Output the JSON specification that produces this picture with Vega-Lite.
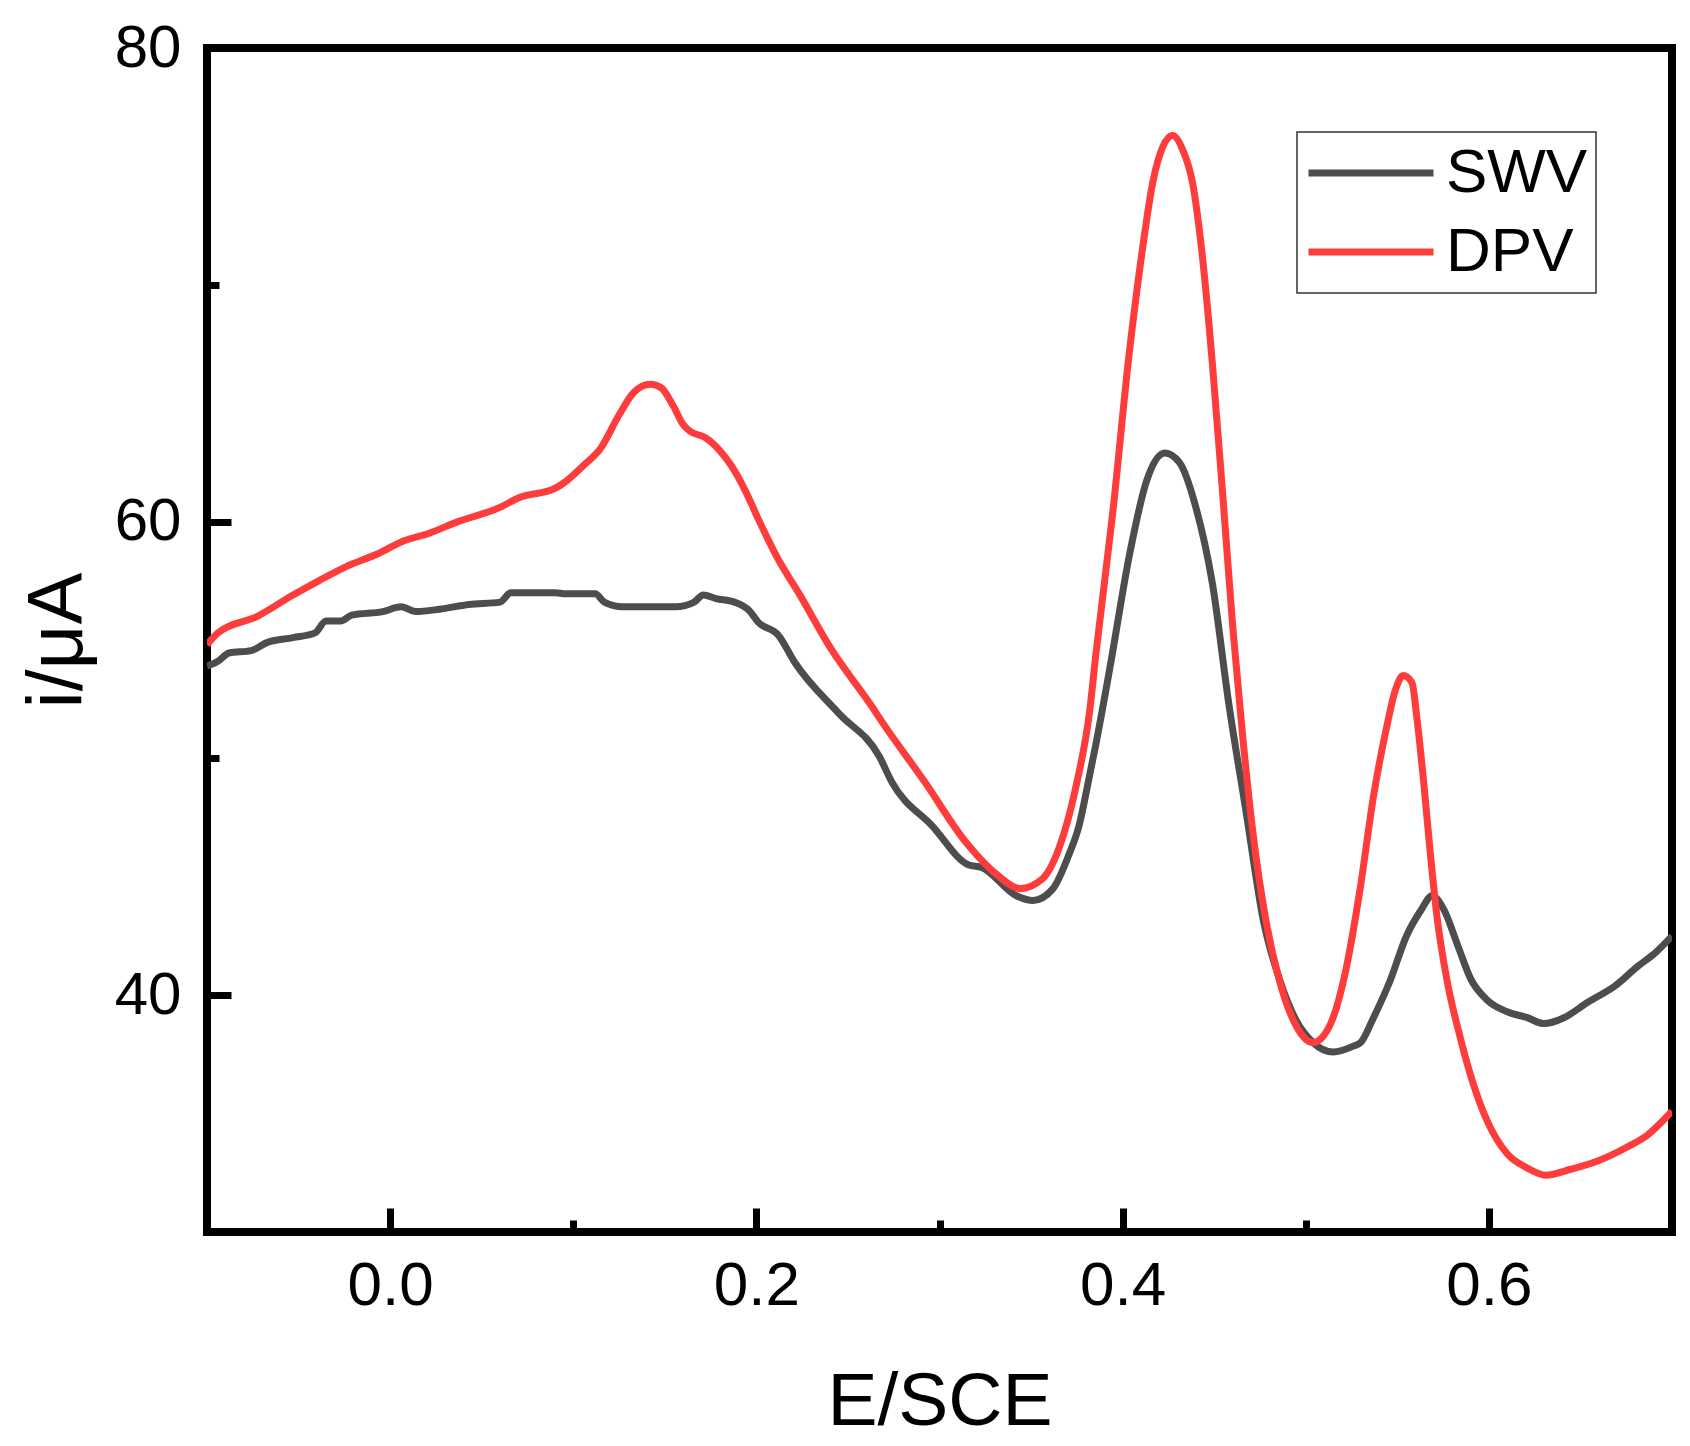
{
  "$schema": "https://vega.github.io/schema/vega-lite/v6.json",
  "autosize": {"type": "none"},
  "padding": {"left": 207, "top": 48, "right": 18, "bottom": 214},
  "width": 1465,
  "height": 1184,
  "background": "white",
  "config": {
    "view": {"stroke": "black", "strokeWidth": 8},
    "font": "Liberation Sans",
    "legend": {"strokeColor": "#333333", "strokeWidth": 1.5}
  },
  "data": {
    "values": [
      {"s": "SWV", "E": -0.100, "i": 53.9},
      {"s": "SWV", "E": -0.094, "i": 54.1},
      {"s": "SWV", "E": -0.088, "i": 54.45},
      {"s": "SWV", "E": -0.076, "i": 54.55},
      {"s": "SWV", "E": -0.067, "i": 54.9},
      {"s": "SWV", "E": -0.053, "i": 55.1},
      {"s": "SWV", "E": -0.041, "i": 55.3},
      {"s": "SWV", "E": -0.035, "i": 55.8},
      {"s": "SWV", "E": -0.027, "i": 55.8},
      {"s": "SWV", "E": -0.021, "i": 56.05},
      {"s": "SWV", "E": -0.004, "i": 56.2},
      {"s": "SWV", "E": 0.006, "i": 56.4},
      {"s": "SWV", "E": 0.014, "i": 56.2},
      {"s": "SWV", "E": 0.027, "i": 56.3},
      {"s": "SWV", "E": 0.043, "i": 56.5},
      {"s": "SWV", "E": 0.060, "i": 56.6},
      {"s": "SWV", "E": 0.066, "i": 57.0},
      {"s": "SWV", "E": 0.090, "i": 57.0},
      {"s": "SWV", "E": 0.096, "i": 56.95},
      {"s": "SWV", "E": 0.112, "i": 56.95},
      {"s": "SWV", "E": 0.117, "i": 56.6},
      {"s": "SWV", "E": 0.127, "i": 56.4},
      {"s": "SWV", "E": 0.156, "i": 56.4},
      {"s": "SWV", "E": 0.166, "i": 56.6},
      {"s": "SWV", "E": 0.171, "i": 56.9},
      {"s": "SWV", "E": 0.178, "i": 56.75},
      {"s": "SWV", "E": 0.188, "i": 56.6},
      {"s": "SWV", "E": 0.196, "i": 56.25},
      {"s": "SWV", "E": 0.201, "i": 55.75},
      {"s": "SWV", "E": 0.212, "i": 55.2},
      {"s": "SWV", "E": 0.221, "i": 54.05},
      {"s": "SWV", "E": 0.245, "i": 51.9},
      {"s": "SWV", "E": 0.267, "i": 50.1},
      {"s": "SWV", "E": 0.274, "i": 49.0},
      {"s": "SWV", "E": 0.296, "i": 47.15},
      {"s": "SWV", "E": 0.316, "i": 45.5},
      {"s": "SWV", "E": 0.323, "i": 45.4},
      {"s": "SWV", "E": 0.342, "i": 44.2},
      {"s": "SWV", "E": 0.351, "i": 44.0},
      {"s": "SWV", "E": 0.362, "i": 44.5},
      {"s": "SWV", "E": 0.371, "i": 46.0},
      {"s": "SWV", "E": 0.376, "i": 47.1},
      {"s": "SWV", "E": 0.382, "i": 49.3},
      {"s": "SWV", "E": 0.3854, "i": 50.6},
      {"s": "SWV", "E": 0.393, "i": 53.8},
      {"s": "SWV", "E": 0.404, "i": 58.7},
      {"s": "SWV", "E": 0.413, "i": 61.7},
      {"s": "SWV", "E": 0.423, "i": 62.9},
      {"s": "SWV", "E": 0.431, "i": 62.5},
      {"s": "SWV", "E": 0.440, "i": 60.6},
      {"s": "SWV", "E": 0.449, "i": 57.4},
      {"s": "SWV", "E": 0.458, "i": 52.3},
      {"s": "SWV", "E": 0.4675, "i": 47.7},
      {"s": "SWV", "E": 0.477, "i": 43.1},
      {"s": "SWV", "E": 0.486, "i": 40.6},
      {"s": "SWV", "E": 0.495, "i": 38.9},
      {"s": "SWV", "E": 0.504, "i": 38.0},
      {"s": "SWV", "E": 0.515, "i": 37.6},
      {"s": "SWV", "E": 0.526, "i": 37.85},
      {"s": "SWV", "E": 0.530, "i": 38.0},
      {"s": "SWV", "E": 0.537, "i": 39.05},
      {"s": "SWV", "E": 0.546, "i": 40.6},
      {"s": "SWV", "E": 0.555, "i": 42.5},
      {"s": "SWV", "E": 0.563, "i": 43.6},
      {"s": "SWV", "E": 0.569, "i": 44.2},
      {"s": "SWV", "E": 0.5755, "i": 43.6},
      {"s": "SWV", "E": 0.583, "i": 42.1},
      {"s": "SWV", "E": 0.590, "i": 40.7},
      {"s": "SWV", "E": 0.599, "i": 39.8},
      {"s": "SWV", "E": 0.610, "i": 39.3},
      {"s": "SWV", "E": 0.621, "i": 39.05},
      {"s": "SWV", "E": 0.630, "i": 38.8},
      {"s": "SWV", "E": 0.641, "i": 39.05},
      {"s": "SWV", "E": 0.654, "i": 39.7},
      {"s": "SWV", "E": 0.669, "i": 40.4},
      {"s": "SWV", "E": 0.681, "i": 41.2},
      {"s": "SWV", "E": 0.691, "i": 41.8},
      {"s": "SWV", "E": 0.700, "i": 42.5},
      {"s": "DPV", "E": -0.100, "i": 54.8},
      {"s": "DPV", "E": -0.094, "i": 55.3},
      {"s": "DPV", "E": -0.0725, "i": 56.0},
      {"s": "DPV", "E": -0.053, "i": 56.9},
      {"s": "DPV", "E": -0.039, "i": 57.5},
      {"s": "DPV", "E": -0.024, "i": 58.1},
      {"s": "DPV", "E": -0.008, "i": 58.6},
      {"s": "DPV", "E": 0.008, "i": 59.2},
      {"s": "DPV", "E": 0.021, "i": 59.5},
      {"s": "DPV", "E": 0.037, "i": 60.0},
      {"s": "DPV", "E": 0.060, "i": 60.6},
      {"s": "DPV", "E": 0.070, "i": 61.0},
      {"s": "DPV", "E": 0.090, "i": 61.4},
      {"s": "DPV", "E": 0.096, "i": 61.7},
      {"s": "DPV", "E": 0.106, "i": 62.4},
      {"s": "DPV", "E": 0.115, "i": 63.1},
      {"s": "DPV", "E": 0.125, "i": 64.5},
      {"s": "DPV", "E": 0.133, "i": 65.45},
      {"s": "DPV", "E": 0.142, "i": 65.8},
      {"s": "DPV", "E": 0.148, "i": 65.65},
      {"s": "DPV", "E": 0.1545, "i": 64.9},
      {"s": "DPV", "E": 0.160, "i": 64.1},
      {"s": "DPV", "E": 0.164, "i": 63.8},
      {"s": "DPV", "E": 0.172, "i": 63.55},
      {"s": "DPV", "E": 0.180, "i": 63.0},
      {"s": "DPV", "E": 0.186, "i": 62.4},
      {"s": "DPV", "E": 0.194, "i": 61.3},
      {"s": "DPV", "E": 0.2005, "i": 60.2},
      {"s": "DPV", "E": 0.212, "i": 58.4},
      {"s": "DPV", "E": 0.223, "i": 57.0},
      {"s": "DPV", "E": 0.241, "i": 54.6},
      {"s": "DPV", "E": 0.263, "i": 52.2},
      {"s": "DPV", "E": 0.269, "i": 51.5},
      {"s": "DPV", "E": 0.292, "i": 49.0},
      {"s": "DPV", "E": 0.314, "i": 46.5},
      {"s": "DPV", "E": 0.332, "i": 45.05},
      {"s": "DPV", "E": 0.344, "i": 44.5},
      {"s": "DPV", "E": 0.356, "i": 44.9},
      {"s": "DPV", "E": 0.365, "i": 46.15},
      {"s": "DPV", "E": 0.3745, "i": 48.8},
      {"s": "DPV", "E": 0.382, "i": 52.0},
      {"s": "DPV", "E": 0.3854, "i": 54.4},
      {"s": "DPV", "E": 0.3945, "i": 60.3},
      {"s": "DPV", "E": 0.4036, "i": 67.1},
      {"s": "DPV", "E": 0.411, "i": 71.6},
      {"s": "DPV", "E": 0.4164, "i": 74.3},
      {"s": "DPV", "E": 0.4218, "i": 75.8},
      {"s": "DPV", "E": 0.4273, "i": 76.3},
      {"s": "DPV", "E": 0.4328, "i": 75.7},
      {"s": "DPV", "E": 0.4382, "i": 74.3},
      {"s": "DPV", "E": 0.4437, "i": 71.1},
      {"s": "DPV", "E": 0.4492, "i": 66.5},
      {"s": "DPV", "E": 0.4547, "i": 61.1},
      {"s": "DPV", "E": 0.4602, "i": 55.5},
      {"s": "DPV", "E": 0.4656, "i": 50.9},
      {"s": "DPV", "E": 0.4711, "i": 46.9},
      {"s": "DPV", "E": 0.4784, "i": 43.1},
      {"s": "DPV", "E": 0.4857, "i": 40.6},
      {"s": "DPV", "E": 0.4948, "i": 38.7},
      {"s": "DPV", "E": 0.504, "i": 38.0},
      {"s": "DPV", "E": 0.513, "i": 38.7},
      {"s": "DPV", "E": 0.522, "i": 41.1},
      {"s": "DPV", "E": 0.5297, "i": 44.5},
      {"s": "DPV", "E": 0.537, "i": 48.4},
      {"s": "DPV", "E": 0.5444, "i": 51.4},
      {"s": "DPV", "E": 0.549, "i": 52.9},
      {"s": "DPV", "E": 0.5532, "i": 53.5},
      {"s": "DPV", "E": 0.558, "i": 53.2},
      {"s": "DPV", "E": 0.5607, "i": 51.7},
      {"s": "DPV", "E": 0.5644, "i": 49.0},
      {"s": "DPV", "E": 0.568, "i": 46.0},
      {"s": "DPV", "E": 0.5717, "i": 43.3},
      {"s": "DPV", "E": 0.5772, "i": 40.6},
      {"s": "DPV", "E": 0.5844, "i": 38.2},
      {"s": "DPV", "E": 0.5917, "i": 36.2},
      {"s": "DPV", "E": 0.599, "i": 34.7},
      {"s": "DPV", "E": 0.610, "i": 33.3},
      {"s": "DPV", "E": 0.621, "i": 32.7},
      {"s": "DPV", "E": 0.631, "i": 32.4},
      {"s": "DPV", "E": 0.6447, "i": 32.65},
      {"s": "DPV", "E": 0.6594, "i": 33.0},
      {"s": "DPV", "E": 0.6758, "i": 33.6},
      {"s": "DPV", "E": 0.6867, "i": 34.1},
      {"s": "DPV", "E": 0.700, "i": 35.1}
    ]
  },
  "layer": [
    {
      "mark": {"type": "line", "strokeWidth": 7, "clip": true, "strokeJoin": "round", "interpolate": "monotone"},
      "encoding": {
        "x": {
          "field": "E",
          "type": "quantitative",
          "scale": {"domain": [-0.1, 0.7], "nice": false, "zero": false},
          "axis": {
            "orient": "bottom",
            "title": "E/SCE",
            "values": [0, 0.2, 0.4, 0.6],
            "format": ".1f",
            "domain": false,
            "grid": false,
            "ticks": true,
            "tickColor": "black",
            "tickWidth": 7,
            "tickSize": -24,
            "labelFont": "Liberation Sans",
            "labelFontSize": 62,
            "labelColor": "black",
            "labelPadding": 47,
            "labelFlush": false,
            "labelOverlap": false,
            "titleFont": "Liberation Sans",
            "titleFontSize": 75,
            "titleFontWeight": "normal",
            "titleColor": "black",
            "titleBaseline": "alphabetic",
            "titleY": 192
          }
        },
        "y": {
          "field": "i",
          "type": "quantitative",
          "scale": {"domain": [30, 80], "nice": false, "zero": false},
          "axis": {
            "orient": "left",
            "title": "i/μA",
            "values": [40, 60, 80],
            "domain": false,
            "grid": false,
            "ticks": true,
            "tickColor": "black",
            "tickWidth": 7,
            "tickSize": -24,
            "labelFont": "Liberation Sans",
            "labelFontSize": 60,
            "labelColor": "black",
            "labelPadding": 50,
            "labelFlush": false,
            "labelOverlap": false,
            "titleFont": "Liberation Sans",
            "titleFontSize": 78,
            "titleFontWeight": "normal",
            "titleColor": "black",
            "titleBaseline": "alphabetic",
            "titleAngle": -90,
            "titleX": -126,
            "titleY": 592
          }
        },
        "color": {
          "field": "s",
          "type": "nominal",
          "sort": ["SWV", "DPV"],
          "scale": {"domain": ["SWV", "DPV"], "range": ["#4d4d4d", "#ff3c3c"]},
          "legend": {
            "title": null,
            "orient": "none",
            "legendX": 1090,
            "legendY": 84,
            "symbolType": "stroke",
            "symbolSize": 15625,
            "symbolStrokeWidth": 7,
            "clipHeight": 66,
            "rowPadding": 13,
            "padding": 8,
            "labelOffset": 9,
            "labelFont": "Liberation Sans",
            "labelFontSize": 62,
            "labelColor": "black",
            "labelLimit": 400,
            "strokeColor": "#333333",
            "fillColor": "white"
          }
        }
      }
    },
    {
      "mark": {"type": "line", "opacity": 0, "clip": true},
      "encoding": {
        "detail": {"field": "s", "type": "nominal"},
        "x": {
          "field": "E",
          "type": "quantitative",
          "axis": {
            "orient": "bottom",
            "title": null,
            "values": [0.1, 0.3, 0.5],
            "labels": false,
            "domain": false,
            "grid": false,
            "ticks": true,
            "tickColor": "black",
            "tickWidth": 7,
            "tickSize": -12
          }
        },
        "y": {
          "field": "i",
          "type": "quantitative",
          "axis": {
            "orient": "left",
            "title": null,
            "values": [50, 70],
            "labels": false,
            "domain": false,
            "grid": false,
            "ticks": true,
            "tickColor": "black",
            "tickWidth": 7,
            "tickSize": -12
          }
        }
      }
    }
  ],
  "resolve": {"axis": {"x": "independent", "y": "independent"}}
}
